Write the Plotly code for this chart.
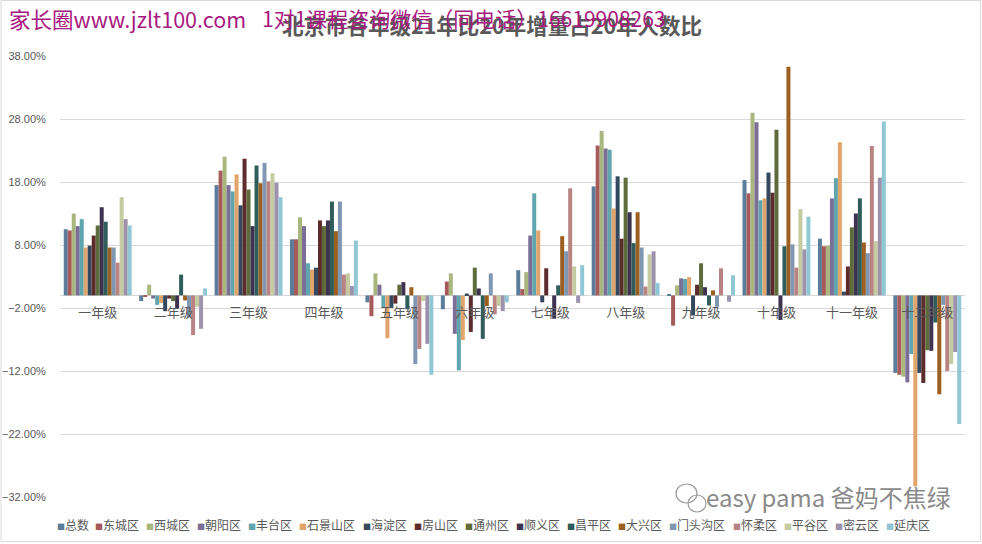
import plotly.graph_objects as go

grades = ["一年级", "二年级", "三年级", "四年级", "五年级", "六年级",
          "七年级", "八年级", "九年级", "十年级", "十一年级", "十二年级"]

series_names = ["总数", "东城区", "西城区", "朝阳区", "丰台区", "石景山区", "海淀区",
                "房山区", "通州区", "顺义区", "昌平区", "大兴区", "门头沟区", "怀柔区",
                "平谷区", "密云区", "延庆区"]

# values in percent, one list per series (12 grades each)
zongshu   = [10.5, -0.9, 17.5,  8.9,  -1.1,  -2.2,  4.0, 17.3,  0.1, 18.3,  9.0, -12.3]
dongcheng = [10.3, -0.2, 19.8,  8.9,  -3.3,   2.2,  1.0, 23.8, -4.8, 16.2,  7.8, -12.6]
xicheng   = [13.0,  1.7, 22.0, 12.4,   3.5,   3.5,  3.7, 26.1,  1.6, 29.0,  7.9, -12.9]
chaoyang  = [11.0, -0.5, 17.5, 11.0,   1.7,  -6.1,  9.5, 23.3,  2.7, 27.5, 15.4, -13.8]
fengtai   = [12.1, -1.5, 16.5,  5.1,  -2.0, -11.9, 16.2, 23.1,  2.6, 15.1, 18.6,  -9.3]
shijingshan = [7.6, -1.2, 19.2, 4.1,  -6.8,  -7.1, 10.3, 13.8,  2.9, 15.4, 24.3, -30.3]
haidian   = [ 7.9, -2.5, 14.3,  4.4,  -2.0,   0.3, -1.1, 18.9, -3.2, 19.5,  0.6, -12.3]
fangshan  = [ 9.5, -0.5, 21.7, 11.9,  -1.3,  -5.8,  4.3,  9.0,  1.7, 16.3,  4.6, -13.9]
tongzhou  = [11.1, -0.9, 16.8, 11.0,   1.7,   4.4,  0.0, 18.7,  5.1, 26.3, 10.8,  -8.7]
shunyi    = [14.0, -2.0, 11.0, 11.9,   2.1,   1.1, -3.7, 13.2,  1.3, -3.9, 13.0,  -8.8]
changping = [11.7,  3.3, 20.6, 14.9,  -2.2,  -6.9,  1.6,  8.3, -1.6,  7.8, 15.4,  -4.3]
daxing    = [ 7.6, -0.8, 17.8, 10.2,   1.3,  -1.7,  9.4, 13.2,  0.8, 36.3,  8.4, -15.7]
mentougou = [ 7.6, -3.5, 21.0, 14.9, -10.9,   3.5,  7.0,  7.6, -1.8,  8.1,  6.7,  -1.5]
huairou   = [ 5.2, -6.3, 18.1,  3.3,  -8.5,  -3.0, 17.0,  1.4,  4.3,  4.4, 23.7, -12.0]
pinggu    = [15.6, -1.8, 19.4,  3.5,  -0.9,  -1.7,  4.6,  6.5,  0.0, 13.7,  8.6, -10.9]
miyun     = [12.1, -5.3, 17.9,  1.5,  -7.7,  -2.5, -1.2,  7.0, -1.0,  7.3, 18.7,  -9.0]
yanqing   = [11.1,  1.1, 15.6,  8.7, -12.6,  -1.1,  4.8,  2.0,  3.2, 12.5, 27.6, -20.4]

series_values = [zongshu, dongcheng, xicheng, chaoyang, fengtai, shijingshan, haidian,
                 fangshan, tongzhou, shunyi, changping, daxing, mentougou, huairou,
                 pinggu, miyun, yanqing]

colors = ["#5b7d9a", "#a65a5a", "#a9b77f", "#7b6f97", "#5fa5ad", "#e1a46b", "#34495e",
          "#5c2b2b", "#5e6b3a", "#3d3350", "#2f5d5a", "#9b5f21", "#7f97b3", "#b98383",
          "#c5cba0", "#9d92ab", "#8fc7d5"]

y_ticks = [-0.32, -0.22, -0.12, -0.02, 0.08, 0.18, 0.28, 0.38]
y_min, y_max = -0.32, 0.38

FONT = "Noto Sans CJK SC"
W, H = 982, 544
ML, MR, MT, MB = 60, 17, 56, 47
PW, PH = W - ML - MR, H - MT - MB


def px(x):
    return (x - ML) / PW


def py(y):
    return (H - MB - y) / PH


fig = go.Figure()
for name, vals, col in zip(series_names, series_values, colors):
    fig.add_bar(x=grades, y=[v / 100 for v in vals], name=name,
                marker=dict(color=col, line=dict(width=0)))

annotations = []
# title
annotations.append(dict(text="<b>北京市各年级21年比20年增量占20年人数比</b>",
                        x=px(492), y=py(24), xref="paper", yref="paper",
                        xanchor="center", yanchor="middle", showarrow=False,
                        font=dict(family=FONT, size=21.5, color="#595959")))
# watermark top (two parts)
annotations.append(dict(text="家长圈www.jzlt100.com",
                        x=px(7), y=py(18), xref="paper", yref="paper",
                        xanchor="left", yanchor="middle", showarrow=False,
                        font=dict(family=FONT, size=21.5, color="#a8197f")))
annotations.append(dict(text="1对1课程咨询微信（同电话）16619908263",
                        x=px(260), y=py(18), xref="paper", yref="paper",
                        xanchor="left", yanchor="middle", showarrow=False,
                        font=dict(family=FONT, size=21, color="#a8197f")))
# watermark bottom right
annotations.append(dict(text="easy pama 爸妈不焦绿",
                        x=px(828), y=py(496), xref="paper", yref="paper",
                        xanchor="center", yanchor="middle", showarrow=False,
                        font=dict(family=FONT, size=24, color="#8a8a8a")))

# legend built as text entries along the bottom
lx = 56.0
for name, col in zip(series_names, colors):
    annotations.append(dict(
        text=f"<span style='color:{col};font-size:8px'>■</span>{name}",
        x=px(lx), y=py(524), xref="paper", yref="paper",
        xanchor="left", yanchor="middle", showarrow=False, borderpad=0,
        font=dict(family=FONT, size=12, color="#595959")))
    lx += 13.2 + 12.6 * len(name)

shapes = [
    dict(type="rect", xref="paper", yref="paper",
         x0=px(1), x1=px(980.5), y0=py(541.5), y1=py(0.5),
         line=dict(color="#d9d9d9", width=1)),
    dict(type="circle", xref="paper", yref="paper",
         x0=px(676), x1=px(697), y0=py(503), y1=py(484),
         line=dict(color="#9a9a9a", width=1.2)),
    dict(type="circle", xref="paper", yref="paper",
         x0=px(688), x1=px(706), y0=py(512), y1=py(495),
         line=dict(color="#9a9a9a", width=1.2)),
]

fig.update_layout(
    width=W, height=H,
    margin=dict(l=ML, r=MR, t=MT, b=MB, pad=0, autoexpand=False),
    paper_bgcolor="white", plot_bgcolor="white",
    barmode="group", bargap=0.1, bargroupgap=0,
    showlegend=False,
    font=dict(family=FONT, color="#595959"),
    annotations=annotations,
    shapes=shapes,
    xaxis=dict(anchor="free", position=(0 - y_min) / (y_max - y_min),
               automargin=False,
               showgrid=False, showline=False, zeroline=False,
               ticks="outside", ticklen=5, tickcolor="rgba(0,0,0,0)",
               tickfont=dict(family=FONT, size=13, color="#595959")),
    yaxis=dict(range=[y_min, y_max], tickvals=y_ticks, tickformat=".2%",
               automargin=False,
               showgrid=True, gridcolor="#d9d9d9", gridwidth=1,
               zeroline=True, zerolinecolor="#d9d9d9", zerolinewidth=1,
               showline=False, ticks="outside", ticklen=11,
               tickcolor="rgba(0,0,0,0)",
               tickfont=dict(family="Liberation Sans", size=11, color="#595959")),
)

fig.write_html("out.html")
